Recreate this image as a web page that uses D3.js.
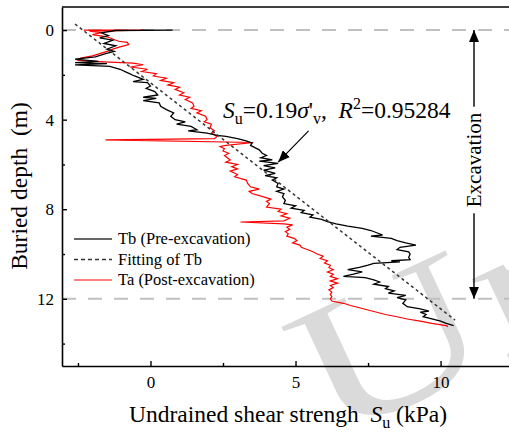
<!DOCTYPE html>
<html>
<head>
<meta charset="utf-8">
<script src="https://cdn.jsdelivr.net/npm/d3@7"></script>
<style>
body { margin: 0; background: #fff; }
svg text { font-family: "Liberation Serif", "DejaVu Serif", serif; fill: #000; }
</style>
</head>
<body>
<div id="my_viz"></div>
<script>
// Tb (pre-excavation) profile: depth (m) and Su (kPa)
const tbDepth = [0.0, 0.0, 0.02, 0.12, 0.25, 0.35, 0.45, 0.6, 0.7, 0.85, 0.95, 1.05, 1.2, 1.3, 1.4, 1.45, 1.5, 1.55, 1.62, 1.75,
  1.9, 2.05, 2.2, 2.3, 2.35, 2.5, 2.6, 2.75, 2.9, 3.0, 3.05, 3.15, 3.25, 3.4, 3.55, 3.7, 3.85, 4.0, 4.1, 4.2,
  4.3, 4.45, 4.5, 4.6, 4.7, 4.75, 4.85, 4.95, 5.05, 5.15, 5.25, 5.35, 5.5, 5.6, 5.7, 5.8, 5.85, 5.95, 6.05, 6.15,
  6.25, 6.4, 6.5, 6.6, 6.7, 6.85, 7.0, 7.1, 7.2, 7.3, 7.45, 7.6, 7.75, 7.85, 7.95, 8.05, 8.15, 8.25, 8.35, 8.45,
  8.55, 8.65, 8.75, 8.85, 8.95, 9.05, 9.15, 9.2, 9.3, 9.4, 9.5, 9.6, 9.7, 9.8, 9.9, 10.0, 10.15, 10.25, 10.3, 10.35,
  10.42, 10.5, 10.6, 10.7, 10.8, 10.9, 11.0, 11.05, 11.15, 11.25, 11.35, 11.45, 11.55, 11.65, 11.75, 11.85, 11.95, 12.05, 12.2, 12.35,
  12.45, 12.55, 12.6, 12.7, 12.8, 12.9, 13.0, 13.1, 13.2]
const tbSu = [-0.3, 0.76, -1.2, -1.7, -1.45, -1.75, -1.3, -1.6, -1.2, -1.5, -1.25, -1.55, -1.9, -2.6, -1.8, -2.6, -1.5, -2.6, -1.4, -1.05,
  -0.8, -0.55, -0.25, -0.6, -0.1, 0.0, -0.15, 0.15, 0.25, -0.25, 0.2, -0.25, 0.3, 0.35, 0.55, 0.8, 0.7, 0.85, 1.2, 0.9,
  1.4, 1.6, 1.3, 1.95, 2.3, 2.6, 3.0, 3.3, 3.5, 3.45, 3.6, 3.75, 3.85, 4.0, 3.8, 4.2, 3.75, 4.4, 3.9, 4.3,
  3.9, 4.3, 3.95, 4.35, 4.2, 4.4, 4.35, 4.6, 4.35, 4.6, 4.55, 4.65, 4.6, 5.0, 4.85, 5.3, 5.2, 5.6, 5.5, 5.9,
  6.1, 6.4, 6.8, 7.3, 7.6, 7.8, 8.0, 7.6, 8.3, 8.5, 8.8, 9.15, 8.6, 8.5, 8.9, 8.95, 8.9, 8.95, 8.3, 8.6,
  7.7, 7.5, 7.2, 6.8, 7.3, 7.0, 6.65, 7.4, 7.7, 7.9, 7.7, 8.2, 8.1, 8.4, 8.2, 8.8, 8.5, 8.8, 8.7, 8.85,
  9.3, 9.6, 9.3, 9.5, 9.4, 9.7, 10.0, 10.2, 10.45]

// Ta (post-excavation) profile
const taDepth = [0.0, 0.0, 0.05, 0.12, 0.2, 0.3, 0.4, 0.5, 0.55, 0.65, 0.75, 0.85, 0.95, 1.05, 1.15, 1.25, 1.35, 1.42, 1.48, 1.55,
  1.65, 1.75, 1.85, 1.95, 2.05, 2.15, 2.25, 2.35, 2.45, 2.55, 2.65, 2.8, 2.9, 3.0, 3.1, 3.25, 3.4, 3.5, 3.6, 3.7,
  3.85, 4.0, 4.1, 4.2, 4.35, 4.5, 4.6, 4.75, 4.85, 4.9, 5.02, 5.15, 5.2, 5.3, 5.4, 5.5, 5.6, 5.7, 5.8, 5.9, 6.0,
  6.1, 6.2, 6.3, 6.45, 6.55, 6.7, 6.85, 7.0, 7.1, 7.2, 7.3, 7.45, 7.55, 7.65, 7.75, 7.9, 8.0, 8.1, 8.2, 8.3,
  8.4, 8.52, 8.57, 8.65, 8.7, 8.8, 8.9, 9.0, 9.1, 9.2, 9.3, 9.4, 9.5, 9.6, 9.7, 9.8, 9.9, 10.0, 10.1, 10.2, 10.3,
  10.4, 10.5, 10.6, 10.7, 10.8, 10.9, 11.0, 11.1, 11.2, 11.3, 11.4, 11.5, 11.6, 11.7, 11.8, 11.9, 12.0, 12.1, 12.2, 12.3,
  12.4, 12.5, 12.6, 12.7, 12.8, 12.9, 13.0, 13.1, 13.2, 13.25]
const taSu = [-2.3, -0.25, -2.1, -1.7, -2.0, -1.5, -1.3, -1.1, -0.8, -0.75, -1.05, -1.3, -1.5, -1.75, -2.0, -2.4, -2.5, -1.6, -0.6, -0.25,
  -0.7, -0.1, -0.3, 0.2, 0.1, 0.55, 0.35, 0.8, 0.6, 1.0, 0.85, 1.15, 1.0, 1.35, 1.2, 1.45, 1.5, 1.4, 1.75, 1.6,
  1.9, 1.95, 1.85, 2.1, 2.05, 2.2, 2.1, 2.3, 2.2, -1.55, 3.55, 2.6, 2.4, 2.55, 2.5, 2.7, 2.55, 2.65, 2.75, 2.6, 3.0,
  2.8, 3.0, 2.75, 3.0, 2.9, 3.3, 3.35, 3.45, 3.75, 3.4, 3.5, 3.9, 4.15, 4.0, 4.1, 4.0, 4.5, 4.4, 4.7, 4.5,
  4.8, 4.6, 3.1, 4.6, 4.9, 4.7, 4.8, 4.65, 4.75, 4.7, 4.95, 5.05, 4.9, 5.15, 5.2, 5.4, 5.6, 5.75, 5.95, 5.85, 6.1,
  6.0, 6.2, 6.15, 6.3, 6.1, 6.3, 6.2, 6.45, 6.2, 6.45, 6.2, 6.3, 6.15, 6.25, 6.2, 6.25, 6.2, 6.25, 6.65, 6.9,
  7.2, 7.5, 7.8, 8.1, 8.5, 8.85, 9.3, 9.7, 10.2, 10.25]

// linear fit of Tb
const fitDepth = [-0.27, 12.95]
const fitSu = [-2.6, 10.5]

const limitDepths = [0, 12]
const xMajor = [0, 5, 10]
const xMinor = [-2.5, 2.5, 7.5, 12.5]
const yMajor = [0, 4, 8, 12]
const yMinor = [2, 6, 10, 14]
const legendLabels = ["Tb (Pre-excavation)", "Fitting of Tb", "Ta (Post-excavation)"]

const width = 509
const height = 432
const plot = {left: 62, right: 516, top: 7, bottom: 366}
const serif = "'Liberation Serif', 'DejaVu Serif', serif"

var svg = d3.select("#my_viz")
  .append("svg")
  .attr("width", width)
  .attr("height", height)
  .style("display", "block")
  .style("font-family", serif)

var x = d3.scaleLinear().domain([-3.05, 12.6]).range([plot.left, plot.right])
var y = d3.scaleLinear().domain([-1.03, 15]).range([plot.top, plot.bottom])

var defs = svg.append("defs")
defs.append("marker")
  .attr("id", "head")
  .attr("viewBox", "0 0 12 10")
  .attr("refX", 12).attr("refY", 5)
  .attr("markerWidth", 12).attr("markerHeight", 10)
  .attr("markerUnits", "userSpaceOnUse")
  .attr("orient", "auto-start-reverse")
  .append("path")
  .attr("d", "M0,0 L12,5 L0,10 Z")
  .attr("fill", "#000")

// watermark
svg.append("text")
  .attr("transform", "translate(329,442) rotate(-25) scale(1.4,1)")
  .style("font-family", serif)
  .style("font-size", "190px")
  .style("fill", "#dadada")
  .text("Un")

// excavation limits
svg.selectAll(".limit")
  .data(limitDepths)
  .enter()
  .append("line")
  .attr("class", "limit")
  .attr("x1", plot.left).attr("x2", width)
  .attr("y1", d => y(d)).attr("y2", d => y(d))
  .attr("stroke", "#c0c0c0")
  .attr("stroke-width", 2)
  .attr("stroke-dasharray", "14,12")

// profiles
var profile = d3.line()
  .x(d => x(d[1]))
  .y(d => y(d[0]))

svg.append("path")
  .attr("d", profile(d3.zip(taDepth, taSu)))
  .attr("fill", "none")
  .attr("stroke", "#ff0000")
  .attr("stroke-width", 1.2)

svg.append("path")
  .attr("d", profile(d3.zip(tbDepth, tbSu)))
  .attr("fill", "none")
  .attr("stroke", "#000")
  .attr("stroke-width", 1.3)

svg.append("path")
  .attr("d", profile(d3.zip(fitDepth, fitSu)))
  .attr("fill", "none")
  .attr("stroke", "#333")
  .attr("stroke-width", 1.5)
  .attr("stroke-dasharray", "3,3")

// axes, ticks pointing inward
svg.append("g")
  .attr("transform", "translate(0," + plot.bottom + ")")
  .call(d3.axisBottom(x).tickValues(xMajor).tickSizeInner(-5).tickSizeOuter(0).tickPadding(10))
svg.append("g")
  .attr("transform", "translate(0," + plot.bottom + ")")
  .call(d3.axisBottom(x).tickValues(xMinor).tickSizeInner(-3).tickSizeOuter(0).tickFormat(""))
  .select(".domain").remove()

svg.append("g")
  .attr("transform", "translate(" + plot.left + ",0)")
  .call(d3.axisLeft(y).tickValues(yMajor).tickSizeInner(-5).tickSizeOuter(0).tickPadding(8))
svg.append("g")
  .attr("transform", "translate(" + plot.left + ",0)")
  .call(d3.axisLeft(y).tickValues(yMinor).tickSizeInner(-3).tickSizeOuter(0).tickFormat(""))
  .select(".domain").remove()

svg.selectAll(".domain").attr("stroke-width", 1.6)
svg.selectAll(".tick line").attr("stroke-width", 1.4)
svg.selectAll(".tick text")
  .style("font-family", serif)
  .style("font-size", "17px")

// top border
svg.append("line")
  .attr("x1", plot.left).attr("x2", plot.right)
  .attr("y1", plot.top).attr("y2", plot.top)
  .attr("stroke", "#000").attr("stroke-width", 1.6)

// axis titles
var xTitle = svg.append("text")
  .attr("x", 288).attr("y", 422)
  .attr("text-anchor", "middle")
  .style("font-family", serif)
  .style("font-size", "23.5px")
  .style("white-space", "pre")
xTitle.append("tspan").text("Undrained shear strengh  ")
xTitle.append("tspan").style("font-style", "italic").text("S")
xTitle.append("tspan").attr("dy", 6).style("font-size", "16px").text("u")
xTitle.append("tspan").attr("dy", -6).text(" (kPa)")

svg.append("text")
  .attr("transform", "translate(27,186) rotate(-90)")
  .attr("text-anchor", "middle")
  .style("font-family", serif)
  .style("font-size", "23.5px")
  .style("white-space", "pre")
  .text("Buried depth  (m)")

// fit equation
var eq = svg.append("text")
  .attr("x", x(2.5)).attr("y", y(3.93))
  .style("font-family", serif)
  .style("font-size", "23.5px")
  .style("white-space", "pre")
eq.append("tspan").style("font-style", "italic").text("S")
eq.append("tspan").attr("dy", 6).style("font-size", "16px").text("u")
eq.append("tspan").attr("dy", -6).text("=0.19")
eq.append("tspan").style("font-style", "italic").text("σ")
eq.append("tspan").text("'")
eq.append("tspan").attr("dy", 6).style("font-size", "16px").text("v")
eq.append("tspan").attr("dy", -6).text(",  ")
eq.append("tspan").style("font-style", "italic").text("R")
eq.append("tspan").attr("dy", -9).style("font-size", "16px").text("2")
eq.append("tspan").attr("dy", 9).text("=0.95284")

svg.append("line")
  .attr("x1", x(5.45)).attr("y1", y(4.5))
  .attr("x2", x(4.4)).attr("y2", y(5.9))
  .attr("stroke", "#000").attr("stroke-width", 1.2)
  .attr("marker-end", "url(#head)")

// excavation arrow
var exX = 474
var exMid = 160
var exLabel = svg.append("text")
  .attr("transform", "translate(" + (exX + 7) + "," + exMid + ") rotate(-90)")
  .attr("text-anchor", "middle")
  .style("font-family", serif)
  .style("font-size", "21px")
  .text("Excavation")
var half = exLabel.node().getComputedTextLength() / 2 + 6
svg.append("line")
  .attr("x1", exX).attr("x2", exX)
  .attr("y1", exMid - half).attr("y2", y(0))
  .attr("stroke", "#000").attr("stroke-width", 1.4)
  .attr("marker-end", "url(#head)")
svg.append("line")
  .attr("x1", exX).attr("x2", exX)
  .attr("y1", exMid + half).attr("y2", y(12))
  .attr("stroke", "#000").attr("stroke-width", 1.4)
  .attr("marker-end", "url(#head)")

// legend
var legend = svg.append("g").attr("transform", "translate(74,239)")
var legendRow = legend.selectAll(".legend")
  .data(legendLabels)
  .enter()
  .append("g")
  .attr("class", "legend")
  .attr("transform", (d, i) => "translate(0," + i * 20.5 + ")")
legendRow.append("line")
  .attr("x1", 0).attr("x2", 38)
  .attr("y1", 0).attr("y2", 0)
  .attr("stroke", (d, i) => i == 2 ? "#ff0000" : "#333")
  .attr("stroke-width", (d, i) => i == 2 ? 1.2 : 1.5)
  .attr("stroke-dasharray", (d, i) => i == 1 ? "4,3" : null)
legendRow.append("text")
  .attr("x", 44)
  .attr("y", 0)
  .attr("dy", "0.33em")
  .style("font-family", serif)
  .style("font-size", "16.5px")
  .text(d => d)
</script>
</body>
</html>
